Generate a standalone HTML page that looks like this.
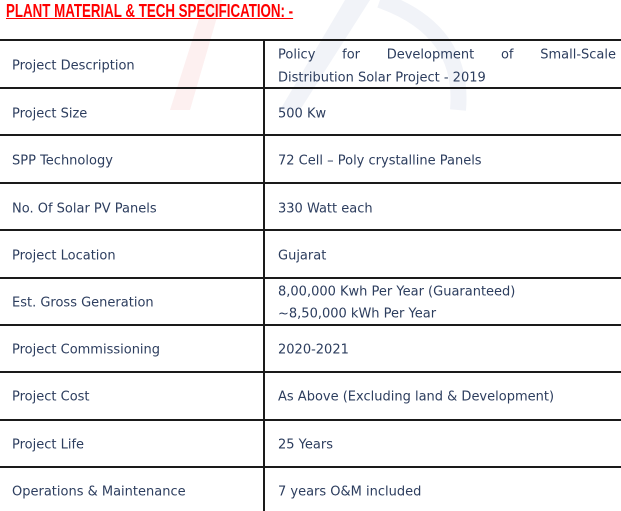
<!DOCTYPE html>
<html><head><meta charset="utf-8"><style>
body{margin:0;width:621px;height:511px;background:#fff;position:relative;overflow:hidden;font-family:"DejaVu Sans",sans-serif}
.t{position:absolute;left:6px;top:1px;font:bold 18px "Liberation Sans",sans-serif;color:#ff0000;text-decoration:underline;white-space:nowrap;transform-origin:0 0;transform:scaleX(0.74)}
.h{position:absolute;left:0;width:621px;height:2px;background:#1a1a1a}
.v{position:absolute;left:263px;top:40px;width:2px;height:471px;background:#1a1a1a}
.c{position:absolute;font-size:13px;color:#2c3d5e;white-space:nowrap;transform:translateY(-50%)}
</style></head><body>
<svg style="position:absolute;left:0;top:0" width="621" height="120">
<path d="M170 110 L205 0 L222 0 L190 110Z" fill="#fdf0f0"/>
<path d="M280 110 L345 0 L370 0 L300 110Z" fill="#f1f3f8"/>
<path d="M380 0 Q465 30 458 110" stroke="#f1f3f8" stroke-width="16" fill="none"/>
</svg>
<div class="t">PLANT MATERIAL &amp; TECH SPECIFICATION: -</div>
<div class="h" style="top:39px"></div>
<div class="h" style="top:87px"></div>
<div class="h" style="top:134px"></div>
<div class="h" style="top:182px"></div>
<div class="h" style="top:229px"></div>
<div class="h" style="top:277px"></div>
<div class="h" style="top:324px"></div>
<div class="h" style="top:371px"></div>
<div class="h" style="top:419px"></div>
<div class="h" style="top:466px"></div>
<div class="v"></div>

<div class="c" style="left:12px;top:66px">Project Description</div>
<div class="c" style="left:278px;top:55px;width:338px;text-align:justify;text-align-last:justify;white-space:normal">Policy for Development of Small-Scale</div>
<div class="c" style="left:278px;top:78px">Distribution Solar Project - 2019</div>

<div class="c" style="left:12px;top:114px">Project Size</div>
<div class="c" style="left:278px;top:114px">500 Kw</div>

<div class="c" style="left:12px;top:161px">SPP Technology</div>
<div class="c" style="left:278px;top:161px">72 Cell – Poly crystalline Panels</div>

<div class="c" style="left:12px;top:209px">No. Of Solar PV Panels</div>
<div class="c" style="left:278px;top:209px">330 Watt each</div>

<div class="c" style="left:12px;top:256px">Project Location</div>
<div class="c" style="left:278px;top:256px">Gujarat</div>

<div class="c" style="left:12px;top:303px">Est. Gross Generation</div>
<div class="c" style="left:278px;top:292px">8,00,000 Kwh Per Year (Guaranteed)</div>
<div class="c" style="left:278px;top:314px">~8,50,000 kWh Per Year</div>

<div class="c" style="left:12px;top:350px">Project Commissioning</div>
<div class="c" style="left:278px;top:350px">2020-2021</div>

<div class="c" style="left:12px;top:397px">Project Cost</div>
<div class="c" style="left:278px;top:397px">As Above (Excluding land &amp; Development)</div>

<div class="c" style="left:12px;top:445px">Project Life</div>
<div class="c" style="left:278px;top:445px">25 Years</div>

<div class="c" style="left:12px;top:492px">Operations &amp; Maintenance</div>
<div class="c" style="left:278px;top:492px">7 years O&amp;M included</div>
</body></html>
